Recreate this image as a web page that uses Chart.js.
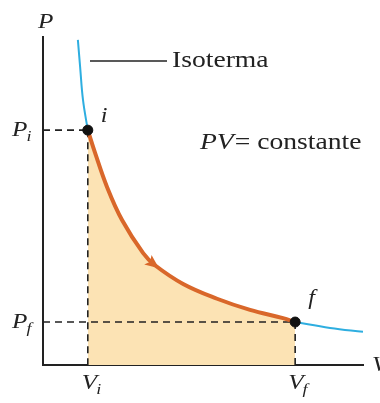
<!DOCTYPE html>
<html>
<head>
<meta charset="utf-8">
<script src="https://cdn.jsdelivr.net/npm/chart.js@4"></script>
<style>
  body { margin: 0; background: #fff; }
  #wrap { width: 380px; height: 403px; }
</style>
</head>
<body>
<div id="wrap"><canvas id="pv"></canvas></div>
<script>
// isotherm above the initial state (blue)
const isoUpperV = [1.09, 1.16, 1.25, 1.40];
const isoUpperP = [9.91, 9.09, 8.08, 7.16];
// process i -> f (orange)
const processV = [1.40, 1.63, 2.00, 2.47, 3.13, 3.50, 4.38, 5.44, 6.47, 7.50, 7.88];
const processP = [7.16, 6.46, 5.43, 4.42, 3.41, 3.04, 2.47, 2.02, 1.68, 1.43, 1.31];
// isotherm past the final state (blue)
const isoLowerV = [7.88, 8.97, 10.0];
const isoLowerP = [1.31, 1.13, 1.01];
// states
const stateV = [1.40, 7.88];
const stateP = [7.16, 1.31];
const stateNames = ['i', 'f'];

const pts = (xs, ys) => xs.map((x, i) => ({x: x, y: ys[i]}));

const SERIF = '"Liberation Serif", "DejaVu Serif", serif';
const BLUE = '#2eaee0';
const ORANGE = '#d9672a';
const FILL = '#fce3b4';
const SX = 1.2; // the lettering in the figure is a bit wide

function dashed(a, b) {
    return {
        data: [a, b],
        showLine: true,
        borderColor: '#222',
        borderWidth: 1.6,
        borderDash: [7, 5],
        pointRadius: 0,
        order: 5
    };
}

// draw text stretched horizontally, returns its drawn width
function wideText(ctx, str, x, y, font) {
    ctx.font = font;
    ctx.save();
    ctx.translate(x, y);
    ctx.scale(SX, 1);
    ctx.textAlign = 'left';
    ctx.textBaseline = 'middle';
    ctx.fillText(str, 0, 0);
    ctx.restore();
    return ctx.measureText(str).width * SX;
}

// text with italic subscript
function subText(ctx, main, sub, x, y, size) {
    const w = wideText(ctx, main, x, y, 'italic ' + size + 'px ' + SERIF);
    wideText(ctx, sub, x + w - 1, y + size * 0.35, 'italic ' + Math.round(size * 0.7) + 'px ' + SERIF);
}

const labels = {
    id: 'labels',
    afterDatasetsDraw(chart) {
        const ctx = chart.ctx;
        const xs = chart.scales.x, ys = chart.scales.y;
        const area = chart.chartArea;
        ctx.save();
        ctx.fillStyle = '#222';
        ctx.strokeStyle = '#222';

        // arrow head on the process curve
        const k = 5;
        const ax = xs.getPixelForValue(processV[k]), ay = ys.getPixelForValue(processP[k]);
        const bx = xs.getPixelForValue(processV[k + 1]), by = ys.getPixelForValue(processP[k + 1]);
        const cx = xs.getPixelForValue(processV[k - 1]), cy = ys.getPixelForValue(processP[k - 1]);
        const ang = Math.atan2(by - cy, bx - cx);
        ctx.save();
        ctx.translate(ax, ay);
        ctx.rotate(ang);
        ctx.fillStyle = ORANGE;
        ctx.beginPath();
        ctx.moveTo(5, 0);
        ctx.lineTo(-9, -6);
        ctx.lineTo(-6, 0);
        ctx.lineTo(-9, 6);
        ctx.closePath();
        ctx.fill();
        ctx.restore();

        // axis names
        wideText(ctx, 'P', area.left - 5, area.top - 15, 'italic 21px ' + SERIF);
        wideText(ctx, 'V', area.right + 9, area.bottom, 'italic 21px ' + SERIF);

        // state labels on the axes
        subText(ctx, 'P', 'i', 12, ys.getPixelForValue(stateP[0]), 21);
        subText(ctx, 'P', 'f', 12, ys.getPixelForValue(stateP[1]), 21);
        subText(ctx, 'V', 'i', xs.getPixelForValue(stateV[0]) - 6, area.bottom + 18, 21);
        subText(ctx, 'V', 'f', xs.getPixelForValue(stateV[1]) - 7, area.bottom + 18, 21);

        // state names near the points
        wideText(ctx, stateNames[0], xs.getPixelForValue(stateV[0]) + 13, ys.getPixelForValue(stateP[0]) - 13, 'italic 20px ' + SERIF);
        wideText(ctx, stateNames[1], xs.getPixelForValue(stateV[1]) + 13, ys.getPixelForValue(stateP[1]) - 23, 'italic 20px ' + SERIF);

        // isotherm callout
        ctx.lineWidth = 1.6;
        ctx.beginPath();
        ctx.moveTo(90, 61);
        ctx.lineTo(167, 61);
        ctx.stroke();
        wideText(ctx, 'Isoterma', 172, 61, '23px ' + SERIF);

        // PV = constante
        const w = wideText(ctx, 'PV', 200, 143, 'italic 23px ' + SERIF);
        wideText(ctx, '= constante', 200 + w + 1, 143, '23px ' + SERIF);
        ctx.restore();
    }
};

new Chart(document.getElementById('pv'), {
    type: 'scatter',
    data: {
        datasets: [
            // shaded work area
            {
                data: pts(processV, processP),
                showLine: true,
                fill: 'origin',
                backgroundColor: FILL,
                borderWidth: 0,
                pointRadius: 0,
                tension: 0.4,
                order: 9
            },
            dashed({x: 0, y: stateP[0]}, {x: stateV[0], y: stateP[0]}),
            dashed({x: stateV[0], y: stateP[0]}, {x: stateV[0], y: 0}),
            dashed({x: 0, y: stateP[1]}, {x: stateV[1], y: stateP[1]}),
            dashed({x: stateV[1], y: stateP[1]}, {x: stateV[1], y: 0}),
            {
                data: pts(isoUpperV, isoUpperP),
                showLine: true,
                borderColor: BLUE,
                borderWidth: 2,
                pointRadius: 0,
                tension: 0.4,
                order: 3
            },
            {
                data: pts(isoLowerV, isoLowerP),
                showLine: true,
                borderColor: BLUE,
                borderWidth: 2,
                pointRadius: 0,
                tension: 0.4,
                order: 3
            },
            {
                data: pts(processV, processP),
                showLine: true,
                borderColor: ORANGE,
                borderWidth: 4,
                pointRadius: 0,
                tension: 0.4,
                order: 1
            },
            {
                data: pts(stateV, stateP),
                showLine: false,
                pointRadius: 5,
                pointBackgroundColor: '#111',
                pointBorderColor: '#111',
                order: 0
            }
        ]
    },
    options: {
        responsive: true,
        maintainAspectRatio: false,
        animation: false,
        layout: { padding: { left: 43, right: 17, top: 37, bottom: 38 } },
        plugins: { legend: { display: false }, tooltip: { enabled: false } },
        scales: {
            x: {
                type: 'linear', min: 0, max: 10,
                grid: { display: false, drawTicks: false },
                ticks: { display: false },
                border: { display: true, color: '#222', width: 2 }
            },
            y: {
                type: 'linear', min: 0, max: 10,
                grid: { display: false, drawTicks: false },
                ticks: { display: false },
                border: { display: true, color: '#222', width: 2 }
            }
        }
    },
    plugins: [labels]
});
</script>
</body>
</html>
